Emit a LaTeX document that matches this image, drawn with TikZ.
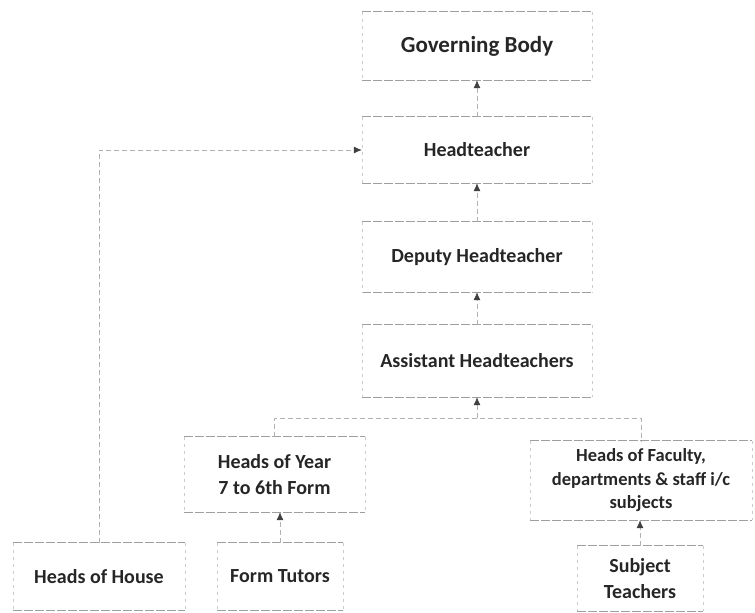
\documentclass[tikz,border=0pt]{standalone}
\usepackage{fontspec}
\setmainfont{Carlito}
\usetikzlibrary{arrows.meta}
\begin{document}
\begin{tikzpicture}[x=1pt,y=-1pt,
  box/.style={align=center, text=black!85, inner sep=2pt,
    font=\fontsize{20}{25}\selectfont\bfseries},
  hedge/.style={draw=gray!75, line width=0.9pt, dash pattern=on 9pt off 2pt},
  vedge/.style={draw=gray!40, line width=0.6pt, dash pattern=on 3pt off 4pt},
  conn/.style={draw=gray!60, line width=0.7pt, dash pattern=on 5pt off 3pt},
  tip/.style={-{Latex[length=8pt,width=7pt,color=black!75]}, draw=gray!60, line width=0.7pt, dash pattern=on 5pt off 3pt}
]
\useasboundingbox (0,0) rectangle (755,613);
% boxes
\node[box, minimum width=230pt, minimum height=68pt, font=\fontsize{23}{28}\selectfont\bfseries] (gb) at (477,46) {Governing Body};
\node[box, minimum width=230pt, minimum height=66pt] (head) at (477,150) {Headteacher};
\node[box, minimum width=230pt, minimum height=70pt] (dep) at (477,257) {Deputy Headteacher};
\node[box, minimum width=230pt, minimum height=72pt] (asst) at (477,361) {Assistant Headteachers};
\node[box, minimum width=181pt, minimum height=75pt, font=\fontsize{20}{26}\selectfont\bfseries] (hoy) at (274.5,474.5) {Heads of Year\\7 to 6th Form};
\node[box, minimum width=222pt, minimum height=79pt, font=\fontsize{18.5}{23.5}\selectfont\bfseries] (hof) at (641,480.5) {Heads of Faculty,\\departments \& staff i/c\\subjects};
\node[box, minimum width=172pt, minimum height=67pt] (hoh) at (99,576.5) {Heads of House};
\node[box, minimum width=126pt, minimum height=67pt] (ft) at (280,576.5) {Form Tutors};
\node[box, minimum width=126pt, minimum height=65pt, font=\fontsize{20}{26}\selectfont\bfseries] (st) at (640,578.5) {Subject\\Teachers};
% box borders: strong top/bottom, faint sides
\foreach \n in {gb,head,dep,asst,hoy,hof,hoh,ft,st}{
  \draw[hedge] (\n.north west) -- (\n.north east);
  \draw[hedge] (\n.south west) -- (\n.south east);
  \draw[vedge] (\n.north west) -- (\n.south west);
  \draw[vedge] (\n.north east) -- (\n.south east);
}
% junction
\coordinate (jm) at (477,418);
% connectors
\draw[tip] (head.north) -- (gb.south);
\draw[tip] (dep.north) -- (head.south);
\draw[tip] (asst.north) -- (dep.south);
\draw[tip] (jm) -- (asst.south);
\draw[conn] (hoy.north) |- (jm) -| (hof.north);
\draw[tip] (ft.north) -- (ft.north |- hoy.south);
\draw[tip] (st.north) -- (st.north |- hof.south);
\draw[tip] (hoh.north) |- (head.west);
\end{tikzpicture}
\end{document}
